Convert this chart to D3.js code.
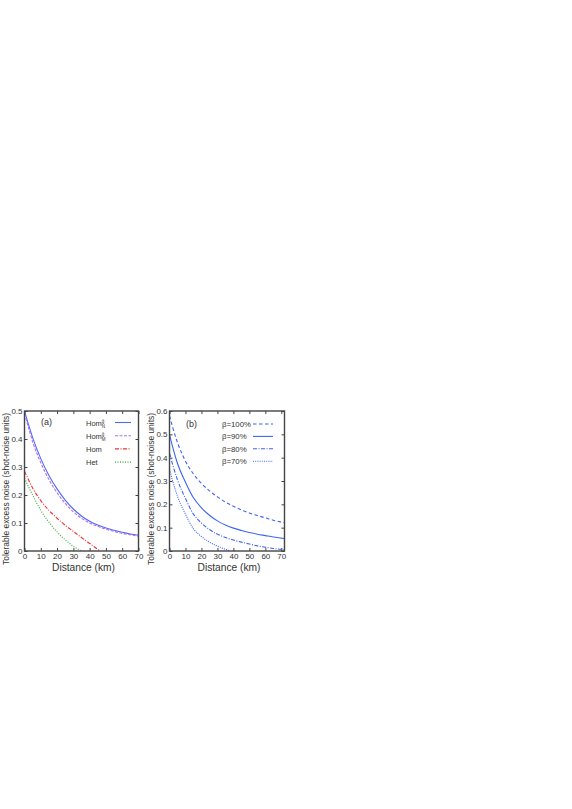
<!DOCTYPE html>
<html>
<head>
<meta charset="utf-8">
<script src="https://cdnjs.cloudflare.com/ajax/libs/d3/7.8.5/d3.min.js"></script>
<style>
  body { margin: 0; background: #fff; }
  text { font-family: "Liberation Sans", Arial, sans-serif; fill: #333; }
</style>
</head>
<body>
<script>
// panel (a) data
var distA = [0, 2, 5, 10, 15, 20, 25, 30, 35, 40, 45, 50, 55, 60, 65, 70];
var homN  = [0.50, 0.46, 0.405, 0.33, 0.27, 0.222, 0.182, 0.15, 0.125, 0.106, 0.093, 0.082, 0.074, 0.067, 0.061, 0.056];
var homM  = [0.49, 0.45, 0.39, 0.315, 0.255, 0.208, 0.17, 0.14, 0.117, 0.10, 0.088, 0.078, 0.07, 0.063, 0.058, 0.053];
var distHom = [0, 2, 5, 10, 15, 20, 25, 30, 35, 40, 45, 46.5];
var hom     = [0.285, 0.26, 0.225, 0.18, 0.145, 0.117, 0.092, 0.07, 0.048, 0.027, 0.006, 0];
var distHet = [0, 2, 5, 10, 15, 20, 25, 30, 35];
var het     = [0.26, 0.235, 0.20, 0.145, 0.103, 0.068, 0.04, 0.017, 0];

// panel (b) data
var distB = [0, 2, 5, 10, 15, 20, 25, 30, 35, 40, 45, 50, 55, 60, 65, 70, 72];
var beta100 = [0.58, 0.53, 0.465, 0.385, 0.33, 0.29, 0.258, 0.232, 0.21, 0.192, 0.176, 0.163, 0.152, 0.142, 0.132, 0.124, 0.121];
var beta90  = [0.50, 0.445, 0.375, 0.295, 0.228, 0.185, 0.153, 0.129, 0.111, 0.098, 0.088, 0.079, 0.072, 0.066, 0.06, 0.055, 0.053];
var beta80  = [0.42, 0.37, 0.305, 0.225, 0.158, 0.12, 0.092, 0.072, 0.058, 0.047, 0.038, 0.03, 0.022, 0.016, 0.011, 0.007, 0.006];
var distB70 = [0, 2, 5, 10, 15, 20, 25, 30, 35, 38];
var beta70  = [0.35, 0.30, 0.235, 0.158, 0.095, 0.062, 0.038, 0.021, 0.007, 0];

var xTicks = [0, 10, 20, 30, 40, 50, 60, 70];
var yTicksA = [0, 0.1, 0.2, 0.3, 0.4, 0.5];
var yTicksB = [0, 0.1, 0.2, 0.3, 0.4, 0.5, 0.6];

var width = 572, height = 809;
var svg = d3.select("body").append("svg")
    .attr("width", width)
    .attr("height", height);

var blue = "#3d63f5";

function zip(xs, ys) {
  return xs.map(function(x, i) { return [x, ys[i]]; });
}

function drawPanel(p) {
  var x = d3.scaleLinear().domain(p.xDomain).range([p.left, p.right]);
  var y = d3.scaleLinear().domain(p.yDomain).range([p.bottom, p.top]);
  var g = svg.append("g");
  var fmt = function(d) { return d === 0 ? "0" : d3.format(".1f")(d); };

  // ticks (inward) on all sides
  g.append("g").attr("transform", "translate(0," + p.bottom + ")")
    .call(d3.axisBottom(x).tickValues(xTicks).tickSizeInner(-3).tickSizeOuter(0).tickPadding(2));
  g.append("g").attr("transform", "translate(0," + p.top + ")")
    .call(d3.axisTop(x).tickValues(xTicks).tickSizeInner(-3).tickSizeOuter(0).tickFormat(""));
  g.append("g").attr("transform", "translate(" + p.left + ",0)")
    .call(d3.axisLeft(y).tickValues(p.yTicks).tickSizeInner(-3).tickSizeOuter(0).tickPadding(2).tickFormat(fmt));
  g.append("g").attr("transform", "translate(" + p.right + ",0)")
    .call(d3.axisRight(y).tickValues(p.yTicks).tickSizeInner(-3).tickSizeOuter(0).tickFormat(""));
  g.selectAll(".domain").remove();
  g.selectAll(".tick line").attr("stroke", "#444");
  g.selectAll(".tick text").style("font-size", "8px").attr("fill", "#333")
    .style("font-family", "'Liberation Sans', Arial, sans-serif");

  // curves
  var line = d3.line()
    .x(function(d) { return x(d[0]); })
    .y(function(d) { return y(d[1]); })
    .curve(d3.curveMonotoneX);

  g.append("clipPath").attr("id", "clip" + p.name)
    .append("rect").attr("x", p.left).attr("y", p.top)
    .attr("width", p.right - p.left).attr("height", p.bottom - p.top);

  p.series.forEach(function(s, i) {
    g.append("path")
      .attr("d", line(zip(s.xs, s.ys)))
      .attr("clip-path", "url(#clip" + p.name + ")")
      .attr("fill", "none")
      .attr("stroke", s.color)
      .attr("stroke-width", 1.1)
      .attr("stroke-dasharray", s.dash);

    // legend
    var ly = p.legY + i * p.legStep;
    var t = g.append("text").attr("x", p.legX).attr("y", ly + 3)
      .style("font-size", p.legFont + "px");
    t.append("tspan").text(s.label);
    if (s.sup) {
      t.append("tspan").attr("dy", -3).style("font-size", "4.5px").text(s.sup);
      t.append("tspan").attr("dx", -2.5).attr("dy", 5.5).style("font-size", "4.5px").text(s.sub);
    }
    g.append("line")
      .attr("x1", p.legX1).attr("x2", p.legX2)
      .attr("y1", ly).attr("y2", ly)
      .attr("stroke", s.color)
      .attr("stroke-width", 1.1)
      .attr("stroke-dasharray", s.dash);
  });

  // frame
  g.append("rect")
    .attr("x", p.left).attr("y", p.top)
    .attr("width", p.right - p.left).attr("height", p.bottom - p.top)
    .attr("fill", "none").attr("stroke", "#444").attr("stroke-width", 1.4);

  g.append("text").attr("x", p.tagX).attr("y", p.tagY)
    .style("font-size", "9px").text(p.tag);

  g.append("text")
    .attr("x", (p.left + p.right) / 2 + 2).attr("y", p.bottom + 20)
    .attr("text-anchor", "middle")
    .attr("textLength", 63).attr("lengthAdjust", "spacingAndGlyphs")
    .style("font-size", "10px")
    .text("Distance (km)");

  g.append("text")
    .attr("transform", "translate(" + p.yTitleX + "," + ((p.top + p.bottom) / 2 + 8) + ") rotate(-90)")
    .attr("text-anchor", "middle")
    .attr("textLength", 152).attr("lengthAdjust", "spacingAndGlyphs")
    .style("font-size", "9.5px")
    .text("Tolerable excess noise (shot-noise units)");
}

drawPanel({
  name: "a", tag: "(a)", tagX: 41, tagY: 425,
  left: 24.5, right: 138.5, top: 411, bottom: 551,
  xDomain: [0, 70], yDomain: [0, 0.5], yTicks: yTicksA, yTitleX: 9,
  legX: 86, legX1: 115, legX2: 131, legY: 422.5, legStep: 13.2, legFont: 7.5,
  series: [
    { xs: distA, ys: homN, color: "#4a6cf7", dash: null, label: "Hom", sup: "\u011D", sub: "N" },
    { xs: distA, ys: homM, color: "#b46cf0", dash: "3,1.5", label: "Hom", sup: "\u011D", sub: "M" },
    { xs: distHom, ys: hom, color: "#f03030", dash: "4,1.5,1,1.5", label: "Hom" },
    { xs: distHet, ys: het, color: "#30a830", dash: "1,1.5", label: "Het" }
  ]
});

drawPanel({
  name: "b", tag: "(b)", tagX: 186, tagY: 427,
  left: 169.5, right: 284.5, top: 411, bottom: 551,
  xDomain: [0, 72], yDomain: [0, 0.6], yTicks: yTicksB, yTitleX: 154,
  legX: 222, legX1: 253, legX2: 273, legY: 424, legStep: 12.4, legFont: 7.8,
  series: [
    { xs: distB, ys: beta100, color: blue, dash: "3.5,2.5", label: "\u03B2=100%" },
    { xs: distB, ys: beta90, color: blue, dash: null, label: "\u03B2=90%" },
    { xs: distB, ys: beta80, color: blue, dash: "4,1.5,1,1.5", label: "\u03B2=80%" },
    { xs: distB70, ys: beta70, color: blue, dash: "1,1.2", label: "\u03B2=70%" }
  ]
});
</script>
</body>
</html>
